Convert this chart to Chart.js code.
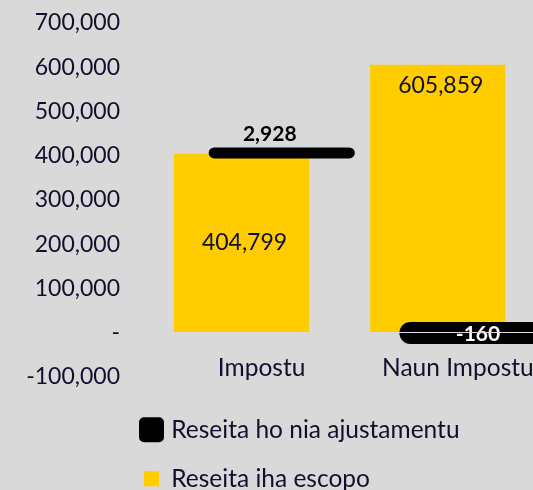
<!DOCTYPE html>
<html>
<head>
<meta charset="utf-8">
<script src="https://cdn.jsdelivr.net/npm/chart.js@4/dist/chart.umd.min.js"></script>
<style>
  html, body { margin: 0; padding: 0; background: #d9d9d9; overflow: hidden; }
  #wrap { width: 560px; height: 501px; }
</style>
</head>
<body>
<div id="wrap"><canvas id="chart-receipts" width="560" height="501"></canvas></div>
<script>
const categories = ['Impostu', 'Naun Impostu'];
const receiptsInScope = [404799, 605859];
const adjustments = [2928, -160];
const seriesNames = ['Reseita iha escopo', 'Reseita ho nia ajustamentu'];
const yMin = -100000;
const yMax = 700000;
const yStep = 100000;

const TEXT = '#10102e';
const FONT = 'Lato';

// adjustments sit on top of the positive column, negatives hang from zero (like Excel stacking)
const adjustmentSpans = adjustments.map((adj, i) =>
  adj >= 0 ? [receiptsInScope[i], receiptsInScope[i] + adj] : [0, adj]
);

const fmt = (v) => v.toLocaleString('en-US');

const markPlugin = {
  id: 'adjustMarks',
  afterLayout(chart) {
    // legend rows start under the plot, not at the canvas edge
    chart.legend.left = 119.5;
  },
  beforeDatasetDraw(chart, args) {
    if (args.index === 1) return false;
  },
  afterDatasetsDraw(chart) {
    const ctx = chart.ctx;
    ctx.save();
    ctx.textAlign = 'center';
    ctx.textBaseline = 'middle';

    const scopeMeta = chart.getDatasetMeta(0);
    scopeMeta.data.forEach((bar, i) => {
      const { x, y, base } = bar.getProps(['x', 'y', 'base'], true);
      const ly = i === 0 ? (y + base) / 2 : y + 21;
      ctx.font = `23px ${FONT}`;
      ctx.fillStyle = TEXT;
      ctx.fillText(fmt(receiptsInScope[i]), x + 3, ly);
    });

    const adjMeta = chart.getDatasetMeta(1);
    adjMeta.data.forEach((bar, i) => {
      const { x, y, base, width } = bar.getProps(['x', 'y', 'base', 'width'], true);
      const thick = adjustments[i] < 0 ? 22 : 11;
      const mid = (y + base) / 2;
      ctx.strokeStyle = '#000';
      ctx.lineWidth = thick;
      ctx.lineCap = 'round';
      ctx.beginPath();
      ctx.moveTo(x - width / 2, mid);
      ctx.lineTo(x + width / 2, mid);
      ctx.stroke();

      ctx.font = `bold 21px ${FONT}`;
      if (adjustments[i] < 0) {
        ctx.fillStyle = '#fff';
        ctx.fillText(fmt(adjustments[i]), x, mid + 1);
      } else {
        ctx.fillStyle = '#000';
        ctx.fillText(fmt(adjustments[i]), x - 12, mid - 19);
      }
    });
    ctx.restore();
  }
};

const ctx = document.getElementById('chart-receipts');

new Chart(ctx, {
  type: 'bar',
  data: {
    labels: categories,
    datasets: [
      {
        label: seriesNames[0],
        data: receiptsInScope,
        backgroundColor: '#ffcc00',
        borderWidth: 0,
        categoryPercentage: 0.41,
        barPercentage: 3.36
      },
      {
        label: seriesNames[1],
        data: adjustmentSpans,
        backgroundColor: '#000',
        borderColor: '#000',
        borderWidth: 10,
        categoryPercentage: 0.41,
        barPercentage: 3.36
      }
    ]
  },
  options: {
    responsive: false,
    animation: false,
    layout: { padding: { left: 25, right: 4, top: 23, bottom: 0 } },
    scales: {
      y: {
        min: yMin,
        max: yMax,
        afterFit: (scale) => { scale.width = 138.5; },
        ticks: {
          stepSize: yStep,
          padding: 0,
          color: TEXT,
          font: { family: FONT, size: 23 },
          callback: (v) => (v === 0 ? '-' : fmt(v))
        },
        grid: {
          z: 1,
          drawTicks: true,
          tickLength: 43.5,
          tickColor: 'transparent',
          color: (c) => (c.tick && c.tick.value === 0 ? '#d9d9d9' : 'transparent')
        },
        border: { display: false }
      },
      x: {
        position: { y: 0 },
        ticks: {
          padding: 20.5,
          color: TEXT,
          maxRotation: 0,
          autoSkip: false,
          font: { family: FONT, size: 24.5 }
        },
        grid: { display: false, drawTicks: false },
        border: { display: false }
      }
    },
    plugins: {
      tooltip: { enabled: false },
      legend: {
        position: 'bottom',
        align: 'start',
        reverse: true,
        title: { display: true, text: '', padding: 0, font: { size: 10, lineHeight: '16px' } },
        labels: {
          boxWidth: 15,
          boxHeight: 15,
          padding: 24.5,
          color: TEXT,
          font: { family: FONT, size: 24.5 },
          generateLabels: (chart) =>
            Chart.defaults.plugins.legend.labels.generateLabels(chart).map((item) =>
              item.datasetIndex === 1 ? { ...item, lineJoin: 'round' } : item
            )
        }
      }
    }
  },
  plugins: [markPlugin]
});
</script>
</body>
</html>
